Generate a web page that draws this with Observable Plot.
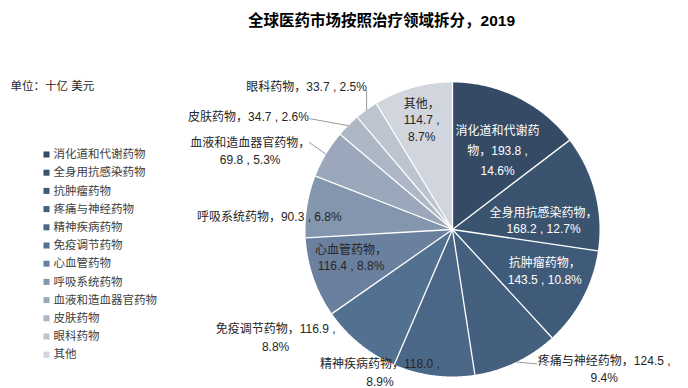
<!DOCTYPE html>
<html><head><meta charset="utf-8">
<script src="https://cdn.jsdelivr.net/npm/d3@7"></script>
<script src="https://cdn.jsdelivr.net/npm/@observablehq/plot@0.6"></script>
<style>body{margin:0;background:#fff;}</style>
</head><body><div id="chart"></div>
<script>
const title = "全球医药市场按照治疗领域拆分，2019";
const unitLabel = "单位：十亿 美元";
const categories = ["消化道和代谢药物","全身用抗感染药物","抗肿瘤药物","疼痛与神经药物","精神疾病药物","免疫调节药物","心血管药物","呼吸系统药物","血液和造血器官药物","皮肤药物","眼科药物","其他"];
const values = [193.8, 168.2, 143.5, 124.5, 118.0, 116.9, 116.4, 90.3, 69.8, 34.7, 33.7, 114.7];
const percents = ["14.6%","12.7%","10.8%","9.4%","8.9%","8.8%","8.8%","6.8%","5.3%","2.6%","2.5%","8.7%"];
const colors = ["#344a65","#3a536f","#405b79","#455f7f","#4b6788","#52708f","#6a809e","#8496ae","#9ba8bb","#adb7c6","#bcc4d0","#d0d5de"];

// layout
const W = 688, H = 388, cx = 452, cy = 229, R = 147;
// label break style, placement [radius factor, dx, dy], text colour
const breaks = ["first","name","name","pct","pct","pct","name","none","name","none","none","other"];
const place = [[0.63,4,2],[0.64,0,14],[0.71,0,-8],[1,88,6],[1,-54,-4],[1,-84,-7],[0.73,0,-8],[1,-38,9],[1,-76,-4],[1,-100,-10],[1,-60,-25],[0.78,0,0]];
const lineHeights = [1.65,1.35,1.35,1.45,1.45,1.45,1.4,1.4,1.4,1.4,1.4,1.4];
const whiteText = [true,true,true,false,false,false,false,false,false,false,false,false];
const leaders = [[3,21,2],[8,-17,-12],[9,-39,-7],[10,0,-20]];

const fmt = v => v.toFixed(1);
function labelText(i){
  const n = categories[i], v = fmt(values[i]), p = percents[i];
  switch(breaks[i]){
    case "first": return n.slice(0,7) + "\n" + n.slice(7) + "，" + v + " ,\n" + p;
    case "name": return n + "，\n" + v + " , " + p;
    case "pct": return n + "，" + v + " ,\n" + p;
    case "other": return n + "，\n" + v + " ,\n" + p;
    default: return n + "，" + v + " , " + p;
  }
}

const arcs = d3.pie().sort(null).value(d => d)(values);
const pt = (a, r) => ({x: cx + r * Math.sin(a), y: cy - r * Math.cos(a)});

const slicePts = [];
arcs.forEach((a, i) => {
  const name = categories[i];
  slicePts.push({name, ...pt(0, 0)});
  const n = Math.max(2, Math.ceil((a.endAngle - a.startAngle) / 0.01));
  for (let k = 0; k <= n; k++) {
    const ang = a.startAngle + (a.endAngle - a.startAngle) * k / n;
    slicePts.push({name, ...pt(ang, R)});
  }
});
const separators = arcs.map(a => ({x1: cx, y1: cy, x2: pt(a.startAngle, R).x, y2: pt(a.startAngle, R).y}));

const labels = arcs.map((a, i) => {
  const mid = (a.startAngle + a.endAngle) / 2;
  const p = pt(mid, place[i][0] * R);
  return {x: p.x + place[i][1], y: p.y + place[i][2], text: labelText(i), white: whiteText[i], lh: lineHeights[i]};
});
const leaderLines = leaders.map(([i, dx, dy]) => {
  const a = arcs[i], mid = (a.startAngle + a.endAngle) / 2;
  const p = pt(mid, R);
  return {x1: p.x, y1: p.y, x2: p.x + dx, y2: p.y + dy};
});

const legend = categories.map((name, i) => ({name, x: 46, y: 154 + i * 18.2}));

const font = "'Liberation Sans', 'Noto Sans CJK SC', sans-serif";
const labelMarks = labels.map(d => Plot.text([d], {x: "x", y: "y", text: "text", fill: d.white ? "white" : "#262626", fontSize: 12, lineHeight: d.lh, lineAnchor: "middle"}));
const chart = Plot.plot({
  width: W, height: H, margin: 0,
  x: {domain: [0, W], range: [0, W], axis: null},
  y: {domain: [0, H], range: [0, H], axis: null},
  color: {domain: categories, range: colors},
  style: {fontFamily: font, background: "#fff"},
  marks: [
    Plot.line(slicePts, {x: "x", y: "y", z: "name", fill: "name", stroke: "none"}),
    Plot.link(separators, {x1: "x1", y1: "y1", x2: "x2", y2: "y2", stroke: "white", strokeWidth: 1.3}),
    Plot.link(leaderLines, {x1: "x1", y1: "y1", x2: "x2", y2: "y2", stroke: "#7f7f7f", strokeWidth: 0.8}),
    ...labelMarks,
    Plot.dot(legend, {x: "x", y: "y", fill: "name", symbol: "square", r: 3.4}),
    Plot.text(legend, {x: "x", y: "y", text: "name", dx: 7, textAnchor: "start", fill: "#404040", fontSize: 11.5}),
    Plot.text([unitLabel], {x: 10, y: 86, text: d => d, textAnchor: "start", fill: "#262626", fontSize: 11.5}),
    Plot.text([title], {x: 381, y: 21, text: d => d, fill: "#000", fontSize: 15.5, fontWeight: "bold"})
  ]
});
document.getElementById("chart").appendChild(chart);
</script>
</body></html>
